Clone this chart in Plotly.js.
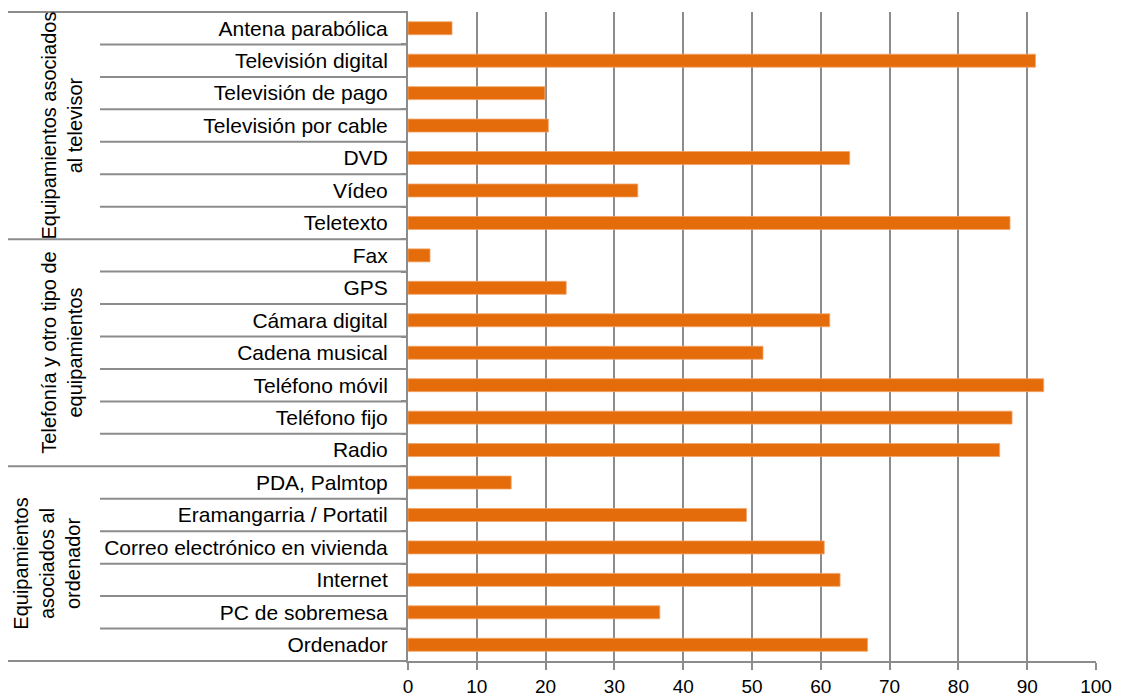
<!DOCTYPE html>
<html>
<head>
<meta charset="utf-8">
<script src="https://cdn.plot.ly/plotly-3.0.1.min.js"></script>
<style>html,body{margin:0;padding:0;background:#fff;}#chart{width:1122px;height:698px;}</style>
</head>
<body>
<div id="chart"></div>
<script>
const categories = [
  "Antena parabólica", "Televisión digital", "Televisión de pago", "Televisión por cable",
  "DVD", "Vídeo", "Teletexto",
  "Fax", "GPS", "Cámara digital", "Cadena musical", "Teléfono móvil", "Teléfono fijo", "Radio",
  "PDA, Palmtop", "Eramangarria / Portatil", "Correo electrónico en vivienda", "Internet",
  "PC de sobremesa", "Ordenador"
];
const values = [
  6.4, 91.2, 19.9, 20.4, 64.2, 33.4, 87.5,
  3.2, 23.0, 61.3, 51.6, 92.4, 87.8, 86.0,
  15.0, 49.2, 60.5, 62.8, 36.6, 66.8
];
const groupNames = [
  "Equipamientos asociados<br>al televisor",
  "Telefonía y otro tipo de<br>equipamientos",
  "Equipamientos<br>asociados al<br>ordenador"
];
const groupSizes = [7, 7, 6];
const xTicks = [0, 10, 20, 30, 40, 50, 60, 70, 80, 90, 100];

const n = categories.length;
const gray = "#8c8c8c";
const font = "Liberation Sans, Arial, sans-serif";

const shapes = [];
const annotations = [];
const yAt = k => 1 - k / n;
let start = 0;
groupSizes.forEach((sz, g) => {
  shapes.push({type: "line", xref: "paper", yref: "paper", x0: -0.5814, x1: 0, y0: yAt(start), y1: yAt(start), line: {color: gray, width: 2}});
  for (let k = start + 1; k < start + sz; k++) {
    shapes.push({type: "line", xref: "paper", yref: "paper", x0: -0.4477, x1: 0, y0: yAt(k), y1: yAt(k), line: {color: gray, width: 2}});
  }
  const lines = groupNames[g].split("<br>").length;
  annotations.push({
    text: groupNames[g], xref: "paper", yref: "paper",
    x: lines === 3 ? -0.5247 : -0.5030, y: yAt(start + sz / 2),
    xanchor: "center", yanchor: "middle", textangle: -90, showarrow: false,
    font: {family: font, size: 20, color: "#000"}
  });
  start += sz;
});
shapes.push({type: "line", xref: "paper", yref: "paper", x0: -0.5814, x1: 0, y0: yAt(n), y1: yAt(n), line: {color: gray, width: 2}});

const trace = {
  type: "bar", orientation: "h",
  x: values, y: categories,
  marker: {color: "#E46C0A", line: {color: "#F2A46A", width: 0.8}},
  hoverinfo: "x+y"
};

const layout = {
  width: 1122, height: 698,
  margin: {l: 408, r: 26, t: 12, b: 37},
  paper_bgcolor: "#fff", plot_bgcolor: "#fff",
  bargap: 0.6,
  showlegend: false,
  font: {family: font, size: 20, color: "#000"},
  xaxis: {
    range: [0, 100], tickvals: xTicks, ticktext: xTicks.map(String),
    showgrid: true, gridcolor: gray, gridwidth: 2,
    showline: true, linecolor: gray, linewidth: 2,
    ticks: "outside", ticklen: 7, tickcolor: gray, tickwidth: 2,
    zeroline: false, fixedrange: true,
    tickfont: {family: font, size: 19, color: "#000"}
  },
  yaxis: {
    type: "category", range: [n - 0.5, -0.5],
    showgrid: false, showline: true, linecolor: gray, linewidth: 2,
    ticks: "outside", ticklen: 5, tickcolor: gray, tickwidth: 2, tickson: "boundaries",
    ticklabelstandoff: 14,
    zeroline: false, fixedrange: true,
    tickfont: {family: font, size: 21, color: "#000"}
  },
  shapes: shapes,
  annotations: annotations
};

Plotly.newPlot("chart", [trace], layout, {displayModeBar: false, staticPlot: true});
</script>
</body>
</html>
